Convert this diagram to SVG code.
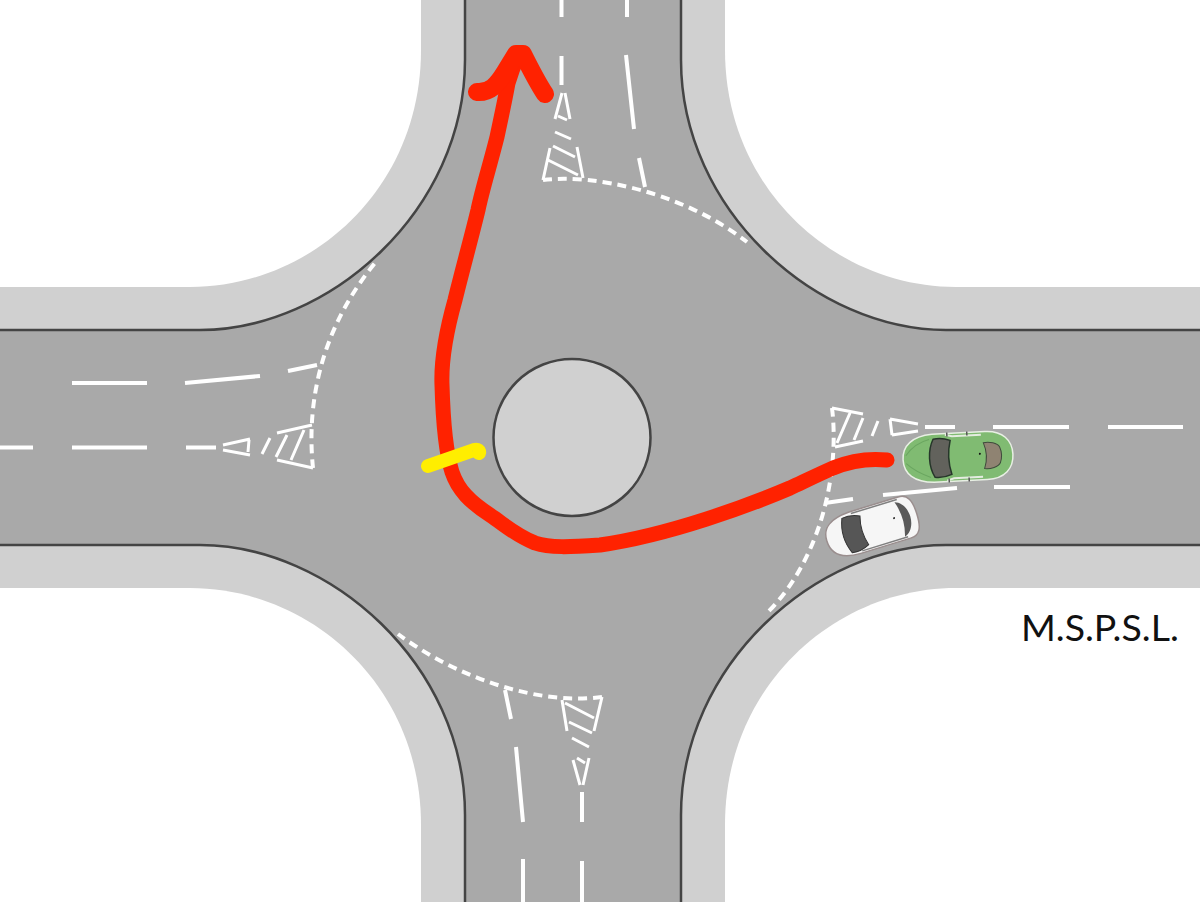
<svg xmlns="http://www.w3.org/2000/svg" width="1200" height="902" viewBox="0 0 1200 902">
  <style>
    .paint { fill: none; stroke: #fff; stroke-width: 4; stroke-linecap: butt; }
    .thin { fill: none; stroke: #fff; stroke-width: 3; }
    .giveway { fill: none; stroke: #fff; stroke-width: 4; stroke-dasharray: 9 6; }
    .kerb { fill: none; stroke: #444; stroke-width: 2.500; }
    .route { fill: none; stroke: #ff2200; stroke-linecap: round; stroke-linejoin: round; }
  </style>
  <defs>
    <!-- one corner block: pavement band, kerb line and the white plot behind it -->
    <g id="corner">
      <path d="M-60 -40H465V60C465 210 330 330 200 330H-60Z" fill="#d0d0d0"/>
      <path d="M-60 -40H421V50C421 190 310 287 190 287H-60Z" fill="#fff"/>
      <path class="kerb" d="M-60 330H200C330 330 465 210 465 60V-40"/>
    </g>
  </defs>

  <rect id="road" width="1200" height="902" fill="#a9a9a9"/>
  <g id="corners">
    <use href="#corner"/>
    <use href="#corner" transform="matrix(-1 0 0 1 1146 0)"/>
    <use href="#corner" transform="matrix(1 0 0 -1 0 875)"/>
    <use href="#corner" transform="matrix(-1 0 0 -1 1146 875)"/>
  </g>

  <circle id="island" cx="572" cy="437.500" r="78.500" fill="#d0d0d0" stroke="#444" stroke-width="2.500"/>

  <g id="markings-north">
    <path class="paint" d="M561.500 0V17M561.500 56V85M627 0V17M626 55L634 129M639 158L645 187"/>
    <path class="thin" d="M562 93L555 119M565 93L570 119M558 116L567 120M555 132L571 139M550 148L543 180M577 147L583 178M553 146L575 157M548 160L578 175"/>
    <path class="giveway" d="M543 180C590 174 680 190 747 242"/>
  </g>
  <g id="markings-west">
    <path class="paint" d="M0 447.500H33M72 447.500H147M186 447.500H216M72 383H147M185 383L260 376M288 371L317 365"/>
    <path class="thin" d="M223 445L250 439M223 450L250 455M249 440L248 452M270 438L262 454M277 433L312 425M277 460L313 468M287 435L276 457M304 430L291 460"/>
    <path class="giveway" d="M313 468C308 420 312 340 375 263"/>
  </g>
  <g id="markings-south">
    <path class="paint" d="M582 792V822M582 861V902M523 859V902M516 747L523 822M505 690L511 719"/>
    <path class="thin" d="M573 760L580 785M589 758L583 785M577 758L585 763M572 738L589 747M562 700L567 731M602 697L594 731M565 703L594 718M569 722L592 733"/>
    <path class="giveway" d="M602 697C540 705 460 680 398 634"/>
  </g>
  <g id="markings-east">
    <path class="paint" d="M925 427H955M993 427H1069M1108 427H1183M994 487H1070M883 495L957 488M825 503L853 499"/>
    <path class="thin" d="M890 419L918 424M892 435L918 431M890 419L892 435M878 421L872 436M832 408L863 414M835 447L863 441M850 413L837 443M863 418L854 440"/>
    <path class="giveway" d="M832 408C836 440 833 480 822 517C812 550 795 585 768 612"/>
  </g>

  <g id="car-green" transform="translate(958 457) rotate(-3)">
    <path d="M-55 0C-55 -14 -45 -23 -25 -24H28C46 -24 55 -14 55 0C55 14 46 24 28 24H-25C-45 23 -55 14 -55 0Z" fill="#80bb72" stroke="#e8efe4" stroke-width="1.500"/>
    <path d="M-24 -19C-18 -20 -12 -19 -7 -17C-10 -6 -10 6 -7 17C-12 19 -18 20 -24 19C-30 8 -30 -8 -24 -19Z" fill="#62625c" stroke="#26362a" stroke-width="1.500"/>
    <path d="M26 -13C32 -14 40 -12 42 -8C44 -3 44 3 42 8C40 12 32 14 26 13C29 5 29 -5 26 -13Z" fill="#8f8372" stroke="#3f4a3c" stroke-width="1"/>
    <path d="M-12 -23L-5 -21H24M-12 23L-5 21H24" stroke="#e4ece0" stroke-width="2" fill="none"/>
    <path d="M-10 -25V-21M10 -25V-21M-10 21V25M10 21V25" stroke="#555" stroke-width="1.500" fill="none"/>
    <path d="M-52 -4C-46 -12 -38 -17 -28 -19M-52 4C-46 10 -38 15 -28 19" stroke="#6aa660" fill="none"/>
    <circle cx="22" cy="-2" r="1" fill="#111"/>
  </g>
  <g id="car-white" transform="translate(872 528) rotate(-17)">
    <path d="M-47 -1C-47 -15 -37 -21 -18 -22H34C44 -22 47 -14 47 0C47 14 44 21 34 21H-18C-37 21 -47 14 -47 -1Z" fill="#f6f6f6" stroke="#9a8e8e" stroke-width="1.500"/>
    <path d="M-26 -18C-20 -19 -14 -18 -8 -15C-11 -5 -11 5 -8 15C-14 18 -20 19 -26 18C-31 6 -31 -6 -26 -18Z" fill="#565656" stroke="#333"/>
    <path d="M29 -18C36 -16 40 -8 40 0C40 8 36 16 29 18C33 6 33 -6 29 -18Z" fill="#5a5a5a"/>
    <path d="M-16 -20H32M-16 19H32" stroke="#808080" stroke-width="1.500" fill="none"/>
    <circle cx="24" cy="-3" r="1" fill="#222"/>
  </g>

  <g id="route">
    <path class="route" stroke-width="15" d="M887 460C868 458 850 461 833 468C815 476 805 481 790 488C750 505 670 535 600 545C570 547 550 548 535 543C515 535 505 525 490 515C470 502 458 490 452 472C445 450 443 420 442 385C441 360 448 325 455 300C461 275 472 235 478 210C482 190 490 165 497 137C501 118 505 100 508 83C511 73 514 65 518 56"/>
    <path class="route" stroke-width="18" d="M477 92C490 93 497 85 505 72L516 54H523C530 68 537 82 545 94"/>
  </g>
  <path id="marker-yellow" d="M428 466L474 450C478 449 480 451 479 453" fill="none" stroke="#ffee00" stroke-width="14" stroke-linecap="round" stroke-linejoin="round"/>

  <text id="label" x="1021" y="641" font-family="Lato, 'Noto Sans', sans-serif" font-size="37.500" fill="#111">M.S.P.S.L.</text>
</svg>
